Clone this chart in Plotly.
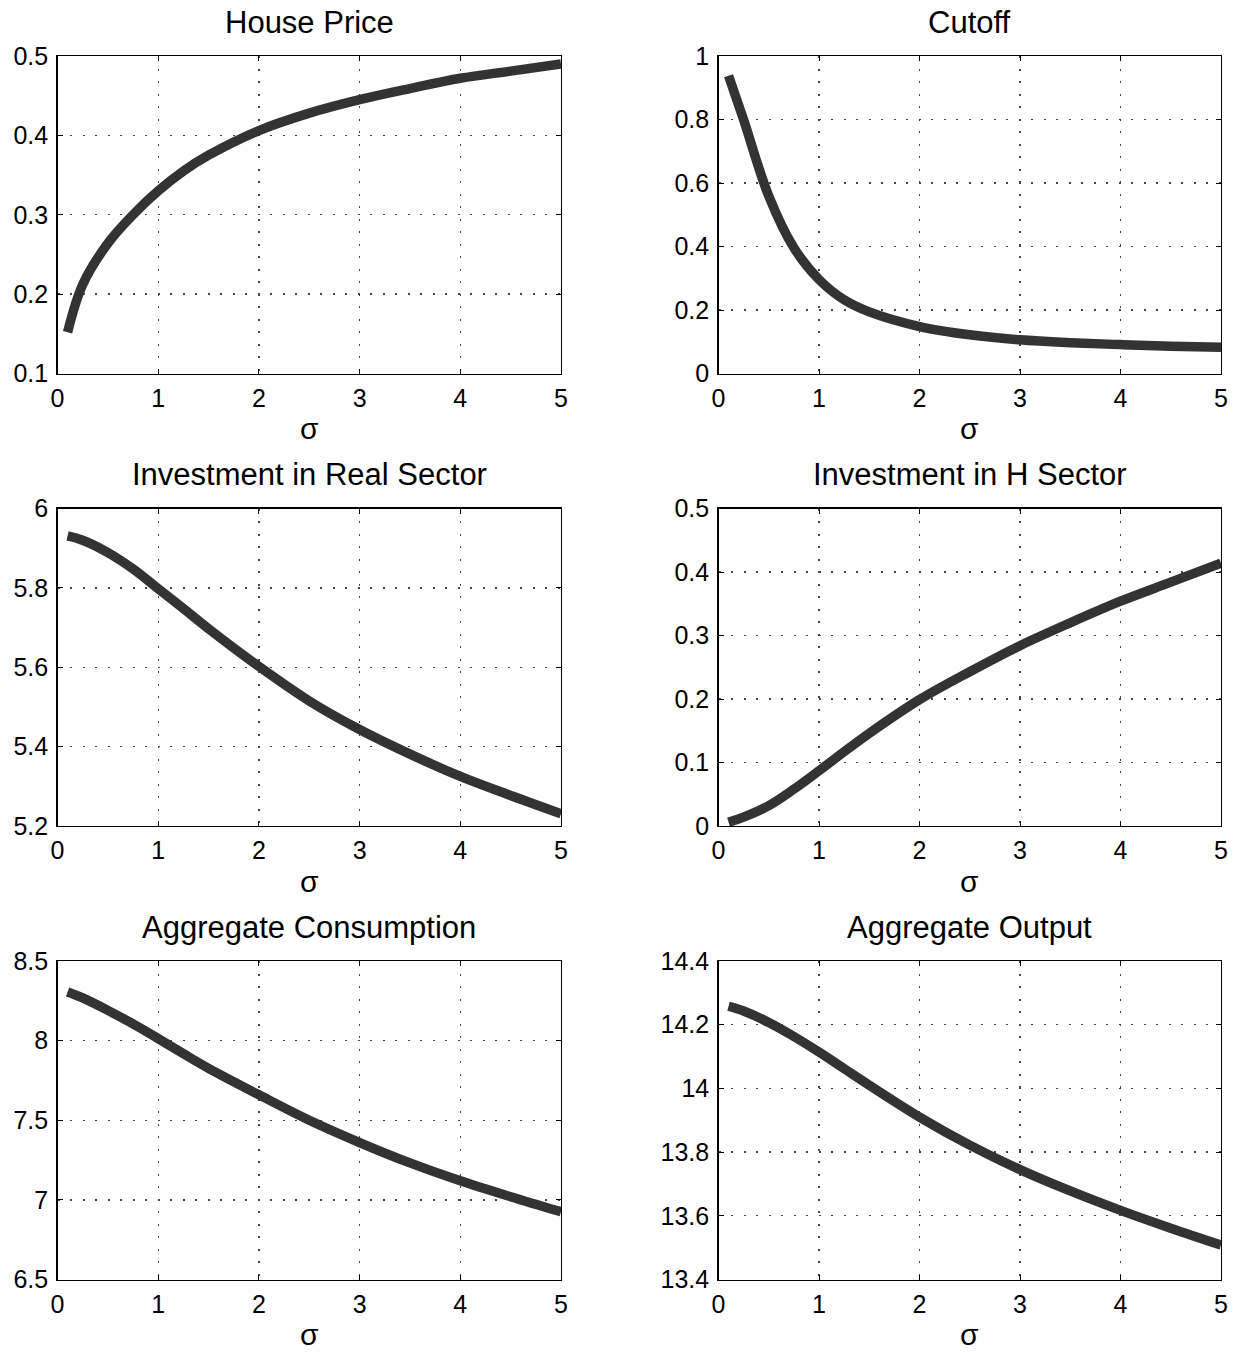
import plotly.graph_objects as go

W, H = 1238, 1352

sigma_a = [0.1, 0.25, 0.5, 0.75, 1.0, 1.25, 1.5, 2.0, 2.5, 3.0, 3.5, 4.0, 4.5, 5.0]
house_price = [0.152, 0.212, 0.264, 0.300, 0.330, 0.355, 0.375, 0.406, 0.428, 0.445, 0.459, 0.472, 0.481, 0.490]

sigma_b = [0.1, 0.25, 0.5, 0.75, 1.0, 1.25, 1.5, 2.0, 2.5, 3.0, 3.5, 4.0, 4.5, 5.0]
cutoff = [0.938, 0.799, 0.559, 0.396, 0.296, 0.232, 0.194, 0.148, 0.122, 0.106, 0.097, 0.091, 0.086, 0.083]

sigma = [0.1, 0.25, 0.5, 0.75, 1.0, 1.25, 1.5, 2.0, 2.5, 3.0, 3.5, 4.0, 4.5, 5.0]
inv_real = [5.931, 5.920, 5.889, 5.848, 5.798, 5.748, 5.697, 5.602, 5.515, 5.443, 5.381, 5.325, 5.277, 5.231]
inv_h = [0.006, 0.014, 0.032, 0.058, 0.087, 0.117, 0.146, 0.199, 0.243, 0.284, 0.320, 0.354, 0.384, 0.414]
agg_cons = [8.305, 8.268, 8.190, 8.105, 8.013, 7.918, 7.826, 7.660, 7.500, 7.360, 7.232, 7.120, 7.020, 6.925]
agg_out = [14.258, 14.243, 14.207, 14.163, 14.114, 14.062, 14.010, 13.910, 13.822, 13.745, 13.678, 13.617, 13.561, 13.508]

titles = ["House Price", "Cutoff", "Investment in Real Sector", "Investment in H Sector",
          "Aggregate Consumption", "Aggregate Output"]
xs = [sigma_a, sigma_b, sigma, sigma, sigma, sigma]
series = [house_price, cutoff, inv_real, inv_h, agg_cons, agg_out]
y_ranges = [[0.1, 0.5], [0, 1], [5.2, 6], [0, 0.5], [6.5, 8.5], [13.4, 14.4]]
y_ticks = [
    [0.1, 0.2, 0.3, 0.4, 0.5],
    [0, 0.2, 0.4, 0.6, 0.8, 1],
    [5.2, 5.4, 5.6, 5.8, 6],
    [0, 0.1, 0.2, 0.3, 0.4, 0.5],
    [6.5, 7, 7.5, 8, 8.5],
    [13.4, 13.6, 13.8, 14, 14.2, 14.4],
]
y_ticktext = [
    ["0.1", "0.2", "0.3", "0.4", "0.5"],
    ["0", "0.2", "0.4", "0.6", "0.8", "1"],
    ["5.2", "5.4", "5.6", "5.8", "6"],
    ["0", "0.1", "0.2", "0.3", "0.4", "0.5"],
    ["6.5", "7", "7.5", "8", "8.5"],
    ["13.4", "13.6", "13.8", "14", "14.2", "14.4"],
]
x_ticks = [0, 1, 2, 3, 4, 5]
x_label = "σ"

# pixel layout (window coordinates; body margin is removed below)
cols = [(57.5, 561), (718.5, 1221)]
rows = [(56, 373.5), (508.5, 826), (961, 1279.5)]

fig = go.Figure()
FONT = "Liberation Sans, Arial, Helvetica, sans-serif"
annotations = []
for i in range(6):
    r, c = divmod(i, 2)
    x0, x1 = cols[c]
    y0, y1 = rows[r]
    xa = "xaxis" if i == 0 else f"xaxis{i+1}"
    ya = "yaxis" if i == 0 else f"yaxis{i+1}"
    xref = "x" if i == 0 else f"x{i+1}"
    yref = "y" if i == 0 else f"y{i+1}"
    fig.add_trace(go.Scatter(x=xs[i], y=series[i], mode="lines",
                             line=dict(color="#333333", width=9.5, shape="spline", smoothing=1.0),
                             xaxis=xref, yaxis=yref, showlegend=False, hoverinfo="skip"))
    common = dict(showline=True, linecolor="black", linewidth=1.3, mirror="ticks",
                  ticks="inside", ticklen=5, tickcolor="black", tickwidth=1,
                  showgrid=True, gridcolor="#444444", gridwidth=1.3, griddash="2px,10.5px",
                  zeroline=False, automargin=False,
                  tickfont=dict(family=FONT, size=25, color="black"))
    fig.layout[xa] = dict(domain=[x0 / W, x1 / W], range=[0, 5], tickvals=x_ticks,
                          anchor=yref, ticklabelstandoff=2, **common)
    fig.layout[ya] = dict(domain=[1 - y1 / H, 1 - y0 / H], range=y_ranges[i],
                          tickvals=y_ticks[i], ticktext=y_ticktext[i],
                          anchor=xref, ticklabelstandoff=3, **common)
    xc = (x0 + x1) / 2 / W
    annotations.append(dict(text=titles[i], x=xc, y=1 - (y0 - 34) / H, xref="paper", yref="paper",
                            showarrow=False, xanchor="center", yanchor="middle", borderpad=0,
                            font=dict(family=FONT, size=31, color="black")))
    annotations.append(dict(text=x_label, x=xc, y=1 - (y1 + 72.5) / H, xref="paper", yref="paper",
                            showarrow=False, xanchor="center", yanchor="bottom", borderpad=0,
                            font=dict(family=FONT, size=30, color="black")))

fig.update_layout(width=W, height=H, margin=dict(l=0, r=0, t=0, b=0, autoexpand=False),
                  template="none",
                  paper_bgcolor="white", plot_bgcolor="white", annotations=annotations)
fig.write_html("out.html", config={"displayModeBar": False, "staticPlot": True},
               post_script="document.body.style.margin='0';document.body.style.padding='0';")
